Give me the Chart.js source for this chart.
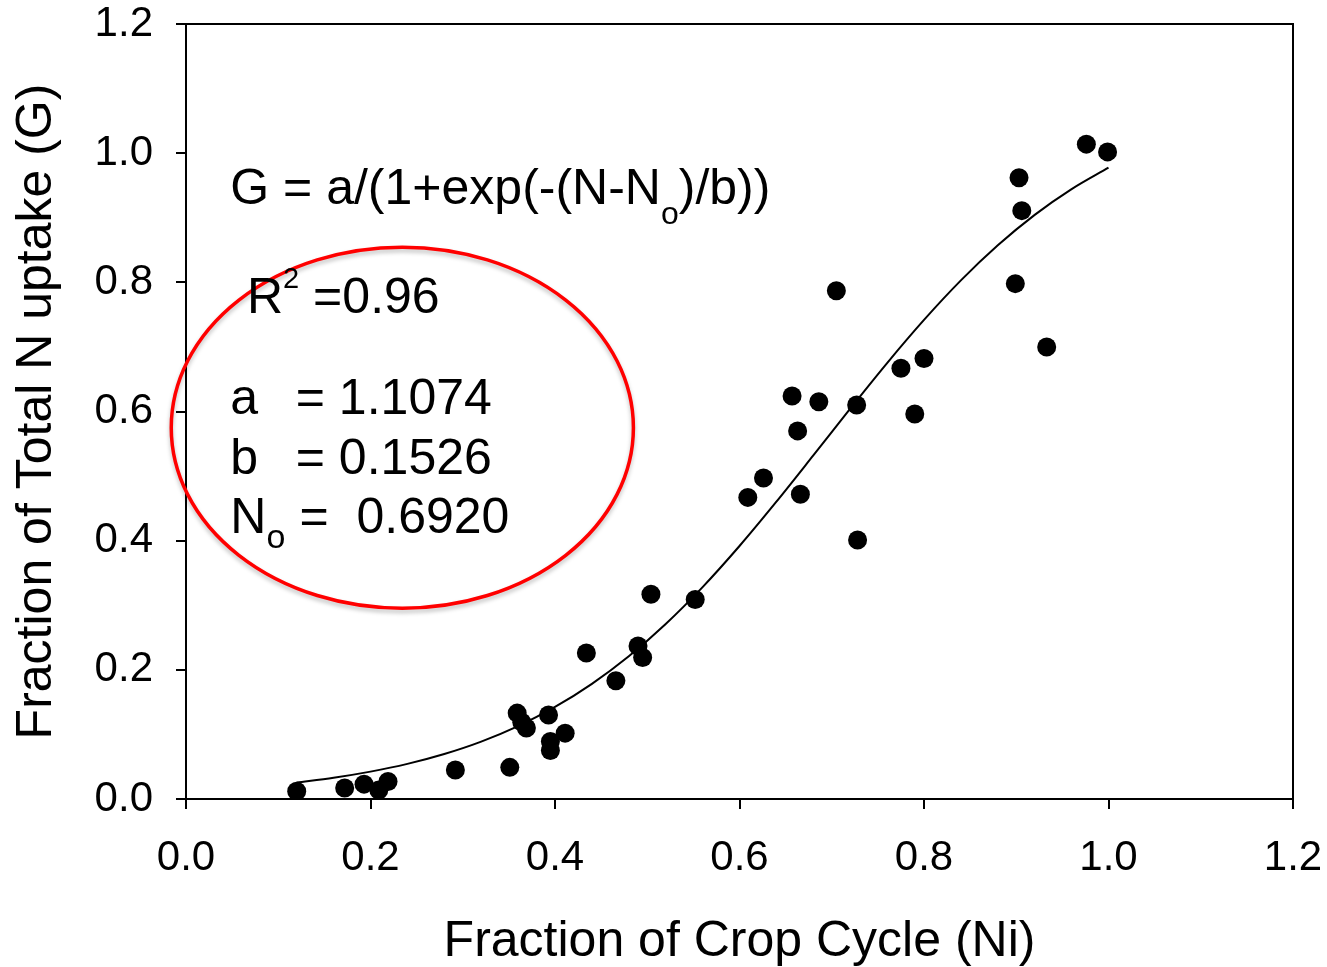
<!DOCTYPE html>
<html>
<head>
<meta charset="utf-8">
<script src="https://cdn.jsdelivr.net/npm/chart.js@4.4.1/dist/chart.umd.min.js"></script>
<style>
  html, body { margin: 0; padding: 0; background: #fff; }
</style>
</head>
<body>
<canvas id="myChart" width="1327" height="967"></canvas>
<script>
const FONT = '"Liberation Sans", Arial, sans-serif';

// measured points
const cropCycle = [
  0.120, 0.172, 0.193, 0.209, 0.219, 0.292, 0.351, 0.359, 0.364, 0.369, 0.393, 0.395, 0.395, 0.411,
  0.434, 0.466, 0.490, 0.495, 0.504, 0.552,
  0.609, 0.626, 0.657, 0.663, 0.666, 0.686, 0.705, 0.727, 0.728, 0.775, 0.790, 0.800,
  0.899, 0.903, 0.906, 0.933, 0.976, 0.999
];
const nUptake = [
  0.012, 0.017, 0.023, 0.014, 0.027, 0.045, 0.049, 0.133, 0.119, 0.110, 0.130, 0.089, 0.075, 0.102,
  0.226, 0.183, 0.237, 0.219, 0.317, 0.309,
  0.467, 0.497, 0.624, 0.570, 0.472, 0.615, 0.787, 0.610, 0.401, 0.667, 0.596, 0.682,
  0.798, 0.962, 0.911, 0.700, 1.014, 1.002
];

// fitted sigmoid, tabulated
const fitX = [0.12, 0.16, 0.20, 0.24, 0.28, 0.32, 0.36, 0.40, 0.44, 0.48, 0.52, 0.56,
              0.60, 0.64, 0.68, 0.72, 0.76, 0.80, 0.84, 0.88, 0.92, 0.96, 1.00];
const fitG = [0.0255, 0.0329, 0.0424, 0.0544, 0.0697, 0.0889, 0.1129, 0.1425, 0.1783, 0.2210, 0.2710, 0.3281,
              0.3917, 0.4603, 0.5319, 0.6043, 0.6750, 0.7418, 0.8030, 0.8573, 0.9044, 0.9443, 0.9775];

const xTicks = [0, 0.2, 0.4, 0.6, 0.8, 1.0, 1.2];
const yTicks = [0, 0.2, 0.4, 0.6, 0.8, 1.0, 1.2];

const fitParams = { a: '1.1074', b: '0.1526', No: '0.6920', r2: '0.96' };

const scatterPts = cropCycle.map((x, i) => ({ x: x, y: nUptake[i] }));
const fitPts = fitX.map((x, i) => ({ x: x, y: fitG[i] }));

// draw text made of pieces (for sub/superscripts)
function drawRuns(ctx, x, y, runs) {
  runs.forEach(r => {
    ctx.font = r.size + 'px ' + FONT;
    ctx.fillText(r.t, x, y + (r.dy || 0));
    x += ctx.measureText(r.t).width + (r.gap || 0);
  });
}

const notes = {
  id: 'notes',
  afterDatasetsDraw(chart) {
    const ctx = chart.ctx;
    const area = chart.chartArea;
    const xs = chart.scales.x, ys = chart.scales.y;
    const px = v => xs.getPixelForValue(v);
    const py = v => ys.getPixelForValue(v);

    ctx.save();
    // top and right frame
    ctx.strokeStyle = '#000';
    ctx.lineWidth = 2;
    ctx.beginPath();
    ctx.moveTo(area.left, area.top);
    ctx.lineTo(area.right, area.top);
    ctx.lineTo(area.right, area.bottom);
    ctx.stroke();

    // red ellipse round the parameters
    ctx.shadowColor = 'rgba(0,0,0,0.25)';
    ctx.shadowBlur = 4;
    ctx.shadowOffsetY = 3;
    ctx.strokeStyle = '#ff0000';
    ctx.lineWidth = 3.5;
    ctx.beginPath();
    ctx.ellipse(px(0.2345), py(0.575), px(0.2505) - px(0), py(0) - py(0.2795), 0, 0, Math.PI * 2);
    ctx.stroke();
    ctx.shadowColor = 'transparent';

    ctx.fillStyle = '#000';
    ctx.textAlign = 'left';
    ctx.textBaseline = 'alphabetic';

    drawRuns(ctx, px(0.048), py(0.921), [
      { t: 'G = a/(1+exp(-(N-N', size: 50 },
      { t: 'o', size: 32, dy: 20 },
      { t: ')/b))', size: 50 }
    ]);

    drawRuns(ctx, px(0.066), py(0.7526), [
      { t: 'R', size: 50 },
      { t: '2', size: 29, dy: -25, gap: 14 },
      { t: '=' + fitParams.r2, size: 50 }
    ]);

    ctx.font = '50px ' + FONT;
    ctx.fillText('a', px(0.048), py(0.596));
    ctx.fillText('= ' + fitParams.a, px(0.119), py(0.596));
    ctx.fillText('b', px(0.048), py(0.503));
    ctx.fillText('= ' + fitParams.b, px(0.119), py(0.503));
    drawRuns(ctx, px(0.048), py(0.412), [
      { t: 'N', size: 50 },
      { t: 'o', size: 34, dy: 15 }
    ]);
    ctx.font = '50px ' + FONT;
    ctx.fillText('=  ' + fitParams.No, px(0.123), py(0.412));
    ctx.restore();
  }
};

const axisGrid = {
  display: true,
  drawOnChartArea: false,
  drawTicks: true,
  tickLength: 10,
  color: '#000',
  lineWidth: 2
};

// keep the plot box fixed: no extra room for overhanging tick labels
function noOverhang(s) {
  s.paddingTop = 0;
  s.paddingBottom = 0;
  s.paddingLeft = 0;
  s.paddingRight = 0;
}

new Chart(document.getElementById('myChart'), {
  type: 'scatter',
  data: {
    datasets: [
      {
        label: 'fit',
        type: 'line',
        data: fitPts,
        borderColor: '#000',
        borderWidth: 2,
        pointRadius: 0,
        fill: false,
        cubicInterpolationMode: 'monotone'
      },
      {
        label: 'data',
        data: scatterPts,
        backgroundColor: '#000',
        borderColor: '#000',
        borderWidth: 0,
        pointRadius: 9.5
      }
    ]
  },
  options: {
    responsive: false,
    devicePixelRatio: 1,
    animation: false,
    layout: { padding: { top: 24, right: 34, left: 0, bottom: 0 } },
    plugins: { legend: { display: false }, tooltip: { enabled: false } },
    scales: {
      x: {
        type: 'linear',
        min: 0, max: 1.2,
        afterBuildTicks: s => { s.ticks = xTicks.map(v => ({ value: v })); },
        afterFit: s => { s.height = 168; noOverhang(s); },
        grid: axisGrid,
        border: { display: true, color: '#000', width: 2 },
        ticks: {
          color: '#000',
          font: { family: FONT, size: 42, lineHeight: 1.2 },
          padding: 24,
          maxRotation: 0,
          callback: v => v.toFixed(1)
        },
        title: {
          display: true,
          text: 'Fraction of Crop Cycle (Ni)',
          color: '#000',
          font: { family: FONT, size: 50, lineHeight: 1 },
          padding: { top: 2, bottom: 0 }
        }
      },
      y: {
        type: 'linear',
        min: 0, max: 1.2,
        afterBuildTicks: s => { s.ticks = yTicks.map(v => ({ value: v })); },
        afterFit: s => { s.width = 186; noOverhang(s); },
        grid: axisGrid,
        border: { display: true, color: '#000', width: 2 },
        ticks: {
          color: '#000',
          font: { family: FONT, size: 42, lineHeight: 1.2 },
          padding: 23,
          callback: v => v.toFixed(1)
        },
        title: {
          display: true,
          text: 'Fraction of Total N uptake (G)',
          color: '#000',
          font: { family: FONT, size: 50, lineHeight: 1 },
          padding: { top: 12, bottom: 0 }
        }
      }
    }
  },
  plugins: [notes]
});
</script>
</body>
</html>
